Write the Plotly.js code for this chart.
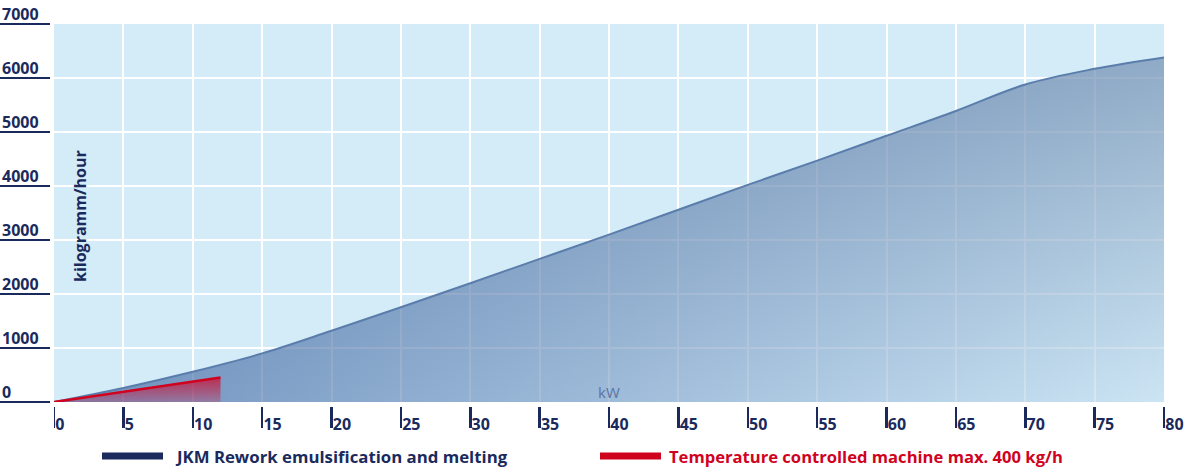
<!DOCTYPE html>
<html><head><meta charset="utf-8">
<script src="https://cdn.plot.ly/plotly-3.0.1.min.js"></script>
<style>html,body{margin:0;padding:0;background:#fff}#chart{width:1200px;height:472px}</style>
</head><body><div id="chart"></div>
<script>
// ---------- data ----------
const kw = [0,5,10,15,20,25,30,35,40,45,50,55,60,65,70,75,80];
const jkmRework = [0,260,560,900,1320,1755,2200,2650,3100,3560,4020,4470,4930,5390,5880,6170,6380];
const tempKw = [0,5,10,12];
const tempMachine = [0,185,375,455];
const yTicks = [0,1000,2000,3000,4000,5000,6000,7000];
const yTickLabels = ['0','1000','2000','3000','4000','5000','6000','7000'];
const xTicks = [0,5,10,15,20,25,30,35,40,45,50,55,60,65,70,75,80];
const xTickLabels = ['0','5','10','15','20','25','30','35','40','45','50','55','60','65','70','75','80'];
const seriesNames = ['JKM Rework emulsification and melting','Temperature controlled machine max. 400 kg/h'];
const yTitle = 'kilogramm/hour';
const xTitle = 'kW';

// ---------- layout helpers ----------
const W = 1200, H = 472, M = {l:54, r:36, t:24, b:70};
const PW = W - M.l - M.r, PH = H - M.t - M.b;
const px = x => (x - M.l) / PW;          // pixel -> paper x
const py = y => (H - M.b - y) / PH;      // pixel -> paper y
const NAVY = '#1a2a5c', RED = '#d0031f';
const FONT = 'Open Sans, Noto Sans, sans-serif';

const traces = [
  { // base fill, horizontal gradient (translucent so the grid shows through)
    x: kw, y: jkmRework, type: 'scatter', mode: 'lines', fill: 'tozeroy',
    line: {width: 0, color: 'rgba(0,0,0,0)', shape: 'spline', smoothing: 1}, hoverinfo: 'skip', showlegend: false,
    fillgradient: {type: 'horizontal', start: 0, stop: 80,
      colorscale: [[0, 'rgba(49,89,155,0.6)'], [1, 'rgba(204,229,245,0.6)']]}
  },
  { // vertical darkening overlay + curve line
    x: kw, y: jkmRework, type: 'scatter', mode: 'lines', fill: 'tozeroy',
    name: seriesNames[0],
    line: {width: 2, color: '#5a7dab', shape: 'spline', smoothing: 1}, showlegend: false,
    fillgradient: {type: 'vertical', start: 0, stop: 6400,
      colorscale: [[0, 'rgba(40,70,120,0.02)'], [1, 'rgba(40,70,120,0.38)']]}
  },
  {
    x: tempKw, y: tempMachine, type: 'scatter', mode: 'lines', fill: 'tozeroy',
    name: seriesNames[1],
    line: {width: 2.5, color: RED}, showlegend: false,
    fillgradient: {type: 'vertical', start: 0, stop: 455,
      colorscale: [[0, 'rgba(205,20,60,0.25)'], [1, 'rgba(205,15,50,0.8)']]}
  }
];

const annotations = [];
yTicks.forEach((v, i) => annotations.push({
  xref: 'paper', yref: 'y', x: px(0), y: v, xanchor: 'left', yanchor: 'bottom',
  yshift: -3, showarrow: false, text: yTickLabels[i],
  font: {family: FONT, size: 16, color: NAVY, weight: 700}
}));
annotations.push({
  xref: 'paper', yref: 'paper', x: px(80), y: py(216), textangle: -90,
  xanchor: 'center', yanchor: 'middle', showarrow: false, text: yTitle,
  font: {family: FONT, size: 16, color: NAVY, weight: 700}
});
annotations.push({
  xref: 'x', yref: 'paper', x: 40, y: py(392), xanchor: 'center', yanchor: 'middle',
  showarrow: false, text: xTitle, font: {family: FONT, size: 15, color: '#5b74a2'}
});
// legend texts
annotations.push({
  xref: 'paper', yref: 'paper', x: px(173), y: py(456), xanchor: 'left', yanchor: 'middle',
  showarrow: false, text: seriesNames[0], font: {family: FONT, size: 16.8, color: NAVY, weight: 700}
});
annotations.push({
  xref: 'paper', yref: 'paper', x: px(667), y: py(456), xanchor: 'left', yanchor: 'middle',
  showarrow: false, text: seriesNames[1], font: {family: FONT, size: 16.6, color: RED, weight: 700}
});

const shapes = [
  // gap between y tick lines and plot area
  {type: 'rect', xref: 'paper', yref: 'paper', x0: px(50), x1: px(54), y0: -0.5, y1: 1.2,
   fillcolor: '#ffffff', line: {width: 0}, layer: 'above'},
  // gap between plot bottom and x tick marks
  {type: 'rect', xref: 'paper', yref: 'paper', x0: 0, x1: 1.1, y0: py(407), y1: py(402.2),
   fillcolor: '#ffffff', line: {width: 0}, layer: 'above'},
  // legend swatches
  {type: 'line', xref: 'paper', yref: 'paper', x0: px(102), x1: px(163), y0: py(456), y1: py(456),
   line: {color: NAVY, width: 7}},
  {type: 'line', xref: 'paper', yref: 'paper', x0: px(600), x1: px(661), y0: py(456), y1: py(456),
   line: {color: RED, width: 7}}
];

const layout = {
  width: W, height: H, margin: M,
  paper_bgcolor: '#ffffff', plot_bgcolor: '#d4ecf8',
  showlegend: false,
  font: {family: FONT, color: NAVY},
  xaxis: {
    range: [0, 80], tickvals: xTicks, ticktext: xTickLabels, automargin: false,
    showgrid: true, gridcolor: '#ffffff', gridwidth: 2, zeroline: false, showline: false,
    ticks: 'outside', ticklen: 25, tickwidth: 2.5, tickcolor: NAVY,
    ticklabelposition: 'outside right', ticklabelstandoff: 8,
    tickfont: {family: FONT, size: 16, color: NAVY, weight: 700}
  },
  yaxis: {
    range: [0, 7000], tickvals: yTicks, automargin: false,
    showgrid: true, gridcolor: '#ffffff', gridwidth: 2, zeroline: false, showline: false,
    ticks: 'outside', ticklen: 54, tickwidth: 2.5, tickcolor: NAVY, showticklabels: false
  },
  annotations: annotations,
  shapes: shapes
};

Plotly.newPlot('chart', traces, layout, {displayModeBar: false, staticPlot: true});
</script>
</body></html>
